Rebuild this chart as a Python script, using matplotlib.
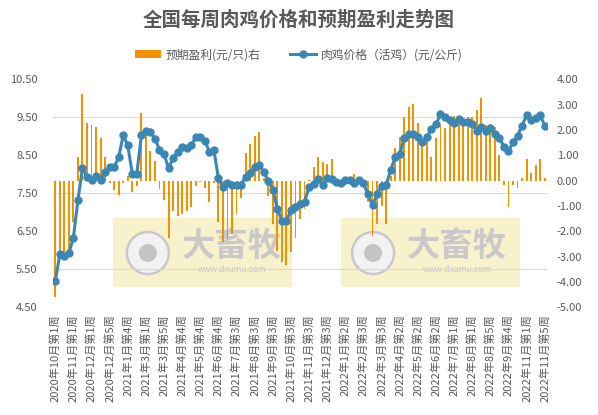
import numpy as np
import matplotlib
matplotlib.use('Agg')
import matplotlib.pyplot as plt
from matplotlib.ticker import MultipleLocator, FormatStrFormatter
from matplotlib.patches import Rectangle, Ellipse

plt.rcParams['font.family'] = ['Noto Sans CJK SC', 'DejaVu Sans']
plt.rcParams['axes.unicode_minus'] = False

# tick labels, one every 4 weeks
week_labels = ['2020年10月第1周', '2020年11月第1周', '2020年12月第1周', '2020年12月第5周',
               '2021年1月第4周', '2021年3月第1周', '2021年3月第5周', '2021年4月第4周',
               '2021年5月第4周', '2021年6月第4周', '2021年7月第3周', '2021年8月第3周',
               '2021年9月第3周', '2021年10月第3周', '2021年11月第3周', '2021年12月第3周',
               '2022年1月第2周', '2022年2月第3周', '2022年3月第3周', '2022年4月第2周',
               '2022年5月第2周', '2022年6月第2周', '2022年7月第1周', '2022年8月第1周',
               '2022年8月第5周', '2022年9月第4周', '2022年11月第1周', '2022年11月第5周']

# 肉鸡价格 (元/公斤), weekly
price = [5.18, 5.89, 5.85, 5.92, 6.33, 7.32, 8.16, 7.94, 7.85, 7.96,
         7.85, 8.07, 8.18, 8.19, 8.45, 9.03, 8.76, 8.01, 8.01, 9.03,
         9.14, 9.12, 8.94, 8.65, 8.53, 8.16, 8.43, 8.60, 8.72, 8.68,
         8.77, 8.97, 8.99, 8.88, 8.60, 8.64, 7.90, 7.66, 7.78, 7.73,
         7.73, 7.73, 7.93, 8.04, 8.19, 8.24, 8.06, 7.83, 7.60, 7.10,
         6.78, 6.78, 7.05, 7.15, 7.23, 7.28, 7.66, 7.74, 7.87, 7.73,
         7.90, 7.88, 7.81, 7.77, 7.85, 7.86, 7.76, 7.85, 7.76, 7.47,
         7.19, 7.47, 7.70, 7.72, 8.11, 8.45, 8.53, 8.95, 9.06, 9.06,
         8.99, 8.86, 8.99, 9.18, 9.32, 9.58, 9.50, 9.42, 9.36, 9.45,
         9.37, 9.37, 9.32, 9.14, 9.25, 9.14, 9.21, 9.05, 8.96, 8.73,
         8.61, 8.84, 9.02, 9.28, 9.56, 9.43, 9.49, 9.56, 9.28]

# 预期盈利 (元/只), weekly
profit = [-4.58, -2.90, -2.90, -2.83, -1.62, 0.93, 3.42, 2.28, 2.20, 2.12,
          1.70, 0.93, -0.09, -0.35, -0.57, -0.09, 0.19, -0.46, -0.21, 2.68,
          1.85, 1.17, 0.77, -0.34, -0.76, -2.27, -1.19, -1.38, -1.30, -1.18,
          -1.03, -0.20, -0.05, -0.28, -0.83, -0.08, -1.62, -2.44, -2.30, -2.09,
          -1.32, -0.70, 1.08, 1.45, 1.76, 1.92, 0.10, -0.60, -1.73, -2.78,
          -3.20, -3.33, -2.82, -2.27, -1.50, -1.10, 0.02, 0.54, 0.93, 0.75,
          0.65, 0.85, 0.05, -0.05, -0.17, 0.05, 0.26, -0.05, -0.15, -0.86,
          -2.18, -1.70, -1.00, -1.73, 0.20, 1.29, 1.74, 2.53, 2.92, 3.03,
          2.29, 1.50, 1.82, 0.92, 1.69, 2.20, 2.08, 2.50, 2.56, 2.50,
          2.46, 2.52, 2.52, 2.80, 3.28, 2.20, 2.23, 2.10, 1.01, -0.17,
          -1.03, -0.17, -0.30, 0.09, 0.86, 0.29, 0.62, 0.86, 0.09]

x = np.arange(len(price))
tick_pos = x[::4]

text_color = '#595959'
bar_color = '#F39200'
line_color = '#3A87B5'

fig = plt.figure(figsize=(5.98, 4.15), dpi=100)
ax = fig.add_axes([0.0886, 0.2595, 0.8261, 0.5494])
ax2 = ax.twinx()
# line axes on top of bar axes
ax.set_zorder(ax2.get_zorder() + 1)
ax.patch.set_visible(False)

bars = ax2.bar(x, profit, width=0.42, color=bar_color, zorder=2,
               label='预期盈利(元/只)右')
line, = ax.plot(x, price, color=line_color, lw=2.2, marker='o', ms=5,
                label='肉鸡价格（活鸡）(元/公斤)')

ax.set_xlim(-0.5, len(price) - 0.5)
ax.set_ylim(4.5, 10.5)
ax2.set_ylim(-5, 4)

ax.set_yticks(np.arange(4.5, 10.51, 1.0))
ax.yaxis.set_major_formatter(FormatStrFormatter('%.2f'))
ax2.set_yticks(np.arange(-5, 4.01, 1.0))
ax2.yaxis.set_major_formatter(FormatStrFormatter('%.2f'))

# gridlines follow the left axis ticks, drawn behind the bars
ax2.yaxis.set_minor_locator(MultipleLocator(1.5, offset=1))
ax2.set_axisbelow(True)
ax2.grid(which='minor', axis='y', color='#D9D9D9', lw=0.8)

ax.set_xticks(tick_pos)
ax.set_xticklabels(week_labels, rotation=90)

ax.tick_params(axis='x', length=0, pad=5, labelsize=8, labelcolor=text_color)
ax.tick_params(axis='y', length=0, pad=11, labelsize=8, labelcolor=text_color)
ax2.tick_params(axis='y', which='both', length=0, pad=7, labelsize=8,
                labelcolor=text_color)

for a in (ax, ax2):
    for s in a.spines.values():
        s.set_visible(False)

# watermark boxes
for bx, cx, tx in [(0.121, 0.192, 0.362), (0.583, 0.648, 0.818)]:
    ax2.add_patch(Rectangle((bx, 0.09), 0.362, 0.303, transform=ax2.transAxes,
                            facecolor='#F6EFC4', edgecolor='none', alpha=0.85, zorder=0.4))
    ax2.add_patch(Ellipse((cx, 0.238), 42 / 494, 42 / 228, transform=ax2.transAxes,
                          facecolor='#F2F2F2', edgecolor='#C8C8C8', lw=1.8, zorder=0.45))
    ax2.add_patch(Ellipse((cx, 0.238), 18 / 494, 18 / 228, transform=ax2.transAxes,
                          facecolor='#C4C4C4', edgecolor='none', zorder=0.46))
    ax2.text(tx, 0.265, '大畜牧', transform=ax2.transAxes, ha='center', va='center',
             fontsize=24, fontweight='bold', color='#C9C9C9', zorder=0.46)
    ax2.text(tx, 0.165, 'www.dxumu.com', transform=ax2.transAxes, ha='center',
             va='center', fontsize=6, color='#C6C6C6', zorder=0.46)

fig.text(0.5, 0.952, '全国每周肉鸡价格和预期盈利走势图', ha='center', va='center',
         fontsize=14, fontweight='bold', color=text_color)

fig.legend([bars, line], [bars.get_label(), line.get_label()],
           loc='center', bbox_to_anchor=(0.5, 0.868), ncol=2, frameon=False,
           fontsize=8.5, labelcolor=text_color, handlelength=2.2,
           handleheight=0.6, columnspacing=2.5, handletextpad=0.4)

fig.savefig('out.png', dpi=100)
